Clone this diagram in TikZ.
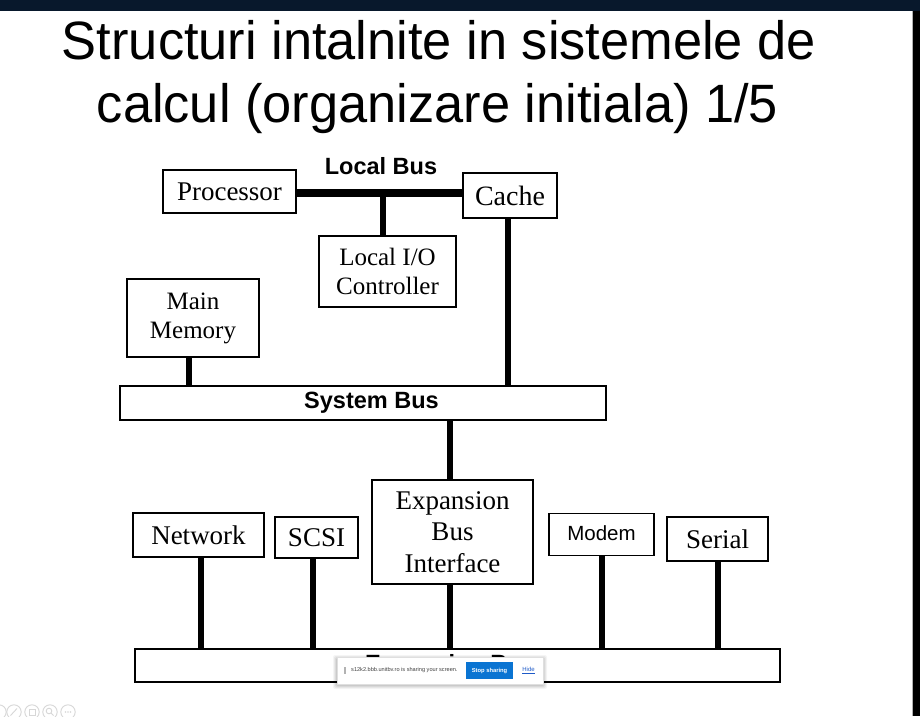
\documentclass[tikz,border=0pt]{standalone}
\usepackage{fontspec}
\setmainfont{Liberation Serif}
\newfontfamily\sansf{Liberation Sans}
\newfontfamily\titlef[FakeStretch=0.97]{Liberation Sans}
\definecolor{barnavy}{RGB}{8,24,44}
\definecolor{btnblue}{RGB}{10,116,210}
\definecolor{linkblue}{RGB}{30,90,200}
\definecolor{icongray}{RGB}{215,215,215}
\begin{document}
\begin{tikzpicture}[x=1pt,y=-1pt,
  box/.style={draw=black,line width=1.8pt,fill=white,inner sep=0pt,align=center},
  serif27/.style={font=\fontsize{27}{31}\selectfont},
  serif25/.style={font=\fontsize{25}{29}\selectfont},
  buslabel/.style={font=\sansf\bfseries\fontsize{23.5}{26}\selectfont},
  wire/.style={line width=6pt,line cap=butt},
  thickwire/.style={line width=8pt,line cap=butt},
  icon/.style={draw=icongray,line width=0.9pt}]
\useasboundingbox (0,0) rectangle (920,716);
\fill[white] (0,0) rectangle (920,716);

% slide frame
\fill[barnavy] (0,0) rectangle (920,11);
\fill[black] (913,11) rectangle (920,716);
\draw[gray!60,line width=0.8pt] (912.4,11) -- (912.4,716);

% title
\node[font=\titlef\fontsize{54}{63}\selectfont,anchor=base,inner sep=0pt] (t1) at (439,59) {Structuri intalnite in sistemele de};
\node[font=\titlef\fontsize{54}{63}\selectfont,anchor=base,inner sep=0pt] (t2) at (437.5,122) {calcul (organizare initiala) 1/5};

% upper level: processor, cache, local I/O, memory
\node[box,serif27,minimum width=133pt,minimum height=43pt] (proc) at (229.5,191.5) {Processor};
\node[box,font=\fontsize{28}{31}\selectfont,minimum width=94pt,minimum height=45pt] (cache) at (510,195.5) {Cache};
\node[box,serif25,minimum width=137pt,minimum height=71pt] (lio) at (387.5,271.5) {Local I/O\\Controller};
\node[box,serif25,minimum width=132pt,minimum height=78pt] (mem) at (193,318) {Main\\Memory};
\node[box,buslabel,minimum width=486pt,minimum height=34pt] (sysbus) at (363,403) {\hspace*{17pt}System Bus};
\node[buslabel,anchor=base,inner sep=0pt] (lblabel) at (381,174) {Local Bus};

\coordinate (lb) at (380,193);
\draw[thickwire] (proc.east |- lb) -- (cache.west |- lb);
\draw[wire] ([xshift=-4.5pt]lio.north) -- ([xshift=-4.5pt]lio.north |- lb);
\draw[wire] ([xshift=-2pt]cache.south) -- ([xshift=-2pt]cache.south |- sysbus.north);
\draw[wire] ([xshift=-4pt]mem.south) -- ([xshift=-4pt]mem.south |- sysbus.north);

% expansion level
\node[box,serif27,minimum width=161pt,minimum height=104pt,font=\fontsize{27}{31.5}\selectfont] (ebi) at (452.5,532) {Expansion\\Bus\\Interface};
\node[box,serif27,minimum width=131pt,minimum height=44pt] (net) at (198.5,535) {Network};
\node[box,serif27,minimum width=83pt,minimum height=41pt] (scsi) at (316.5,537.5) {SCSI};
\node[box,font=\sansf\fontsize{20.5}{24}\selectfont,minimum width=105pt,minimum height=42pt] (modem) at (601.5,534.5) {\raisebox{3pt}{Modem}};
\node[box,serif27,minimum width=101pt,minimum height=44pt] (serial) at (717.5,539) {Serial};
\node[box,buslabel,minimum width=645pt,minimum height=33pt] (expbus) at (457.5,665.5) {Expansion Bus\hspace*{15pt}};

\draw[wire] ([xshift=-2.5pt]ebi.north) -- ([xshift=-2.5pt]ebi.north |- sysbus.south);
\draw[wire] ([xshift=-2.5pt]ebi.south) -- ([xshift=-2.5pt]ebi.south |- expbus.north);
\draw[wire] ([xshift=2.5pt]net.south) -- ([xshift=2.5pt]net.south |- expbus.north);
\draw[wire] ([xshift=-3.5pt]scsi.south) -- ([xshift=-3.5pt]scsi.south |- expbus.north);
\draw[wire] (modem.south) -- (modem.south |- expbus.north);
\draw[wire] (serial.south) -- (serial.south |- expbus.north);

% screen-sharing notice bar
\foreach \d/\o in {4/0.04,3/0.05,2/0.06,1/0.07}
  \fill[black,opacity=\o,rounded corners=2pt] (337-\d,657-\d+2) rectangle (543+\d,684+\d+1);
\node[fill=white,draw=gray!25,line width=0.4pt,minimum width=206pt,minimum height=27pt,inner sep=0pt] (share) at (440,670.5) {};
\draw[gray!60,line width=0.6pt] (344,667) -- (344,674);
\draw[gray!60,line width=0.6pt] (345.6,667) -- (345.6,674);
\node[font=\sansf\fontsize{5.6}{6}\selectfont,anchor=west,inner sep=0pt,text=black!75] (sharetext) at (351,670.5) {s12k2.bbb.unitbv.ro is sharing your screen.};
\node[fill=btnblue,text=white,font=\sansf\bfseries\fontsize{5.8}{6}\selectfont,minimum width=47pt,minimum height=17pt,inner sep=0pt] (stopbtn) at (489.5,670.5) {Stop sharing};
\node[font=\sansf\fontsize{6}{6}\selectfont,text=linkblue,inner sep=0pt] (hidelink) at (528.5,670.5) {\underline{Hide}};

% presentation toolbar icons
\draw[icon] (-1,712) circle (7.2);
\draw[icon] (14,712) circle (7.2);
\draw[icon] (10.5,715.5) -- (17,708.5);
\draw[icon] (32,712) circle (7.2);
\draw[icon] (29,709) rectangle (35,715);
\draw[icon] (50,712) circle (7.2);
\draw[icon] (49,711) circle (2.8);
\draw[icon] (51,713) -- (53.5,715.5);
\draw[icon] (68,712) circle (7.2);
\foreach \dx in {-2.5,0,2.5} \fill[icongray] (68+\dx,712) circle (0.9);
\end{tikzpicture}
\end{document}
